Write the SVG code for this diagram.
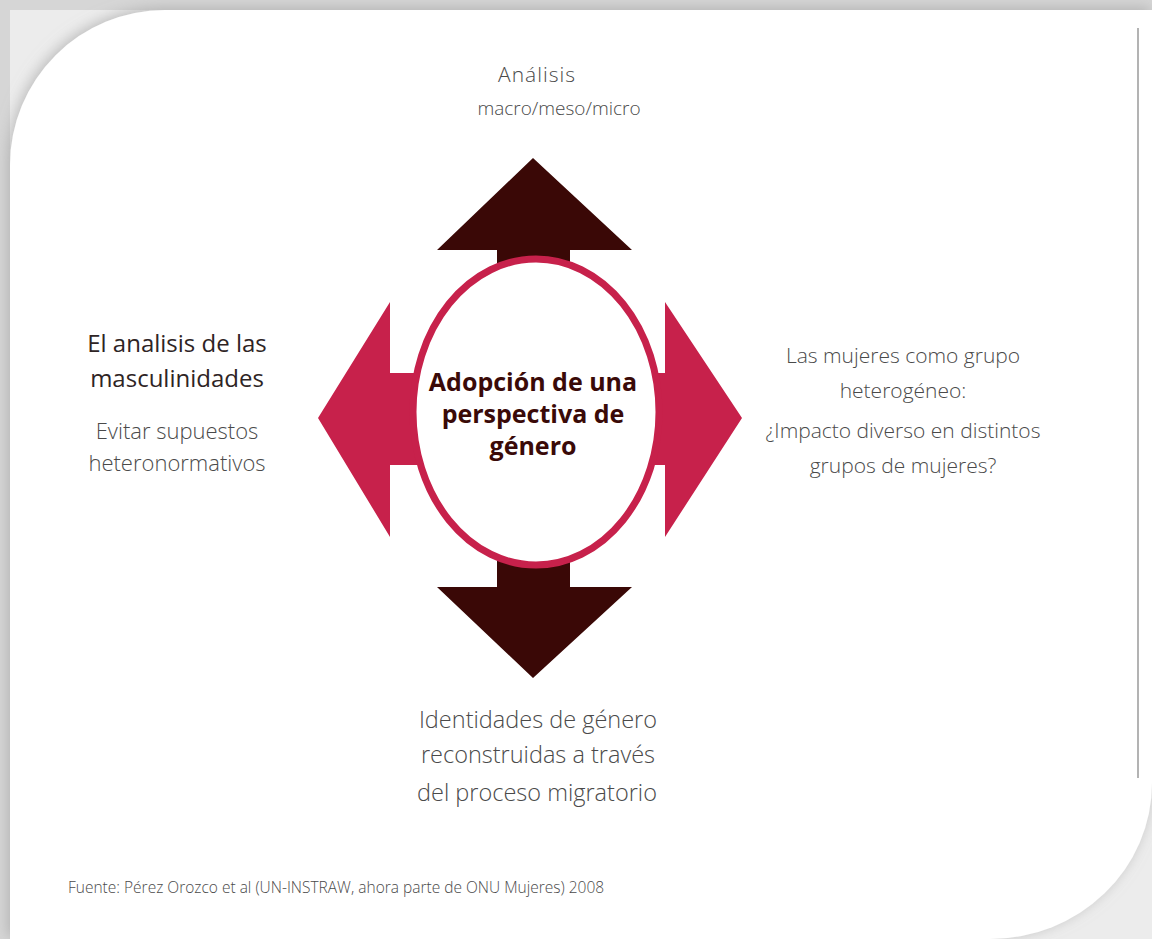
<svg xmlns="http://www.w3.org/2000/svg" width="1152" height="939" viewBox="0 0 1152 939">
<defs>
<filter id="sh" x="-5%" y="-5%" width="110%" height="110%">
<feGaussianBlur in="SourceAlpha" stdDeviation="7"/>
<feOffset dx="-2" dy="-2" result="b"/>
<feFlood flood-color="#9a9a9a" flood-opacity="0.6"/>
<feComposite in2="b" operator="in"/>
<feMerge><feMergeNode/><feMergeNode in="SourceGraphic"/></feMerge>
</filter>
<style>
.lt{font-family:"Open Sans","Liberation Sans",sans-serif;font-weight:300;fill:#4a4a4a;text-anchor:middle}
.dk{font-family:"Open Sans","Liberation Sans",sans-serif;font-weight:400;fill:#2e2424;text-anchor:middle}
.ctr{font-family:"Open Sans","Liberation Sans",sans-serif;font-weight:700;fill:#3a0a08;text-anchor:middle;font-size:25px}
.red{fill:#c7214b}
.brown{fill:#3a0806}
</style>
</defs>
<rect width="1152" height="939" fill="#ececec"/>
<rect width="1152" height="10" fill="#d6d6d6"/>
<rect width="10" height="939" fill="#d6d6d6"/>
<path d="M10,939 L10,165 A155,155 0 0 1 165,10 L1152,10 L1152,783 A162,156 0 0 1 990,939 Z" fill="#ffffff" filter="url(#sh)"/>
<line x1="1138" y1="28" x2="1138" y2="778" stroke="#9a9a9a" stroke-width="1.5"/>

<g id="connectors">
<path class="brown" d="M533,158 L632,250 L570,250 L570,266 L497,266 L497,250 L437,250 Z"/>
<path class="brown" d="M533,678 L632,587 L570,587 L570,560 L497,560 L497,587 L437,587 Z"/>
<path class="red" d="M318,418 L390,302 L390,373 L420,373 L420,465 L390,465 L390,537 Z"/>
<path class="red" d="M742,418 L665,302 L665,373 L650,373 L650,465 L665,465 L665,537 Z"/>
</g>

<g id="center">
<ellipse cx="536" cy="412" rx="123" ry="153" fill="#ffffff" stroke="#c7214b" stroke-width="7"/>
<text class="ctr" x="533" y="391">Adopción de una</text>
<text class="ctr" x="533" y="423">perspectiva de</text>
<text class="ctr" x="533" y="455">género</text>
</g>

<g id="top">
<text class="lt" x="537" y="82" font-size="21" letter-spacing="1">Análisis</text>
<text class="lt" x="559" y="115" font-size="19">macro/meso/micro</text>
</g>

<g id="left">
<text class="dk" x="177" y="352" font-size="24">El analisis de las</text>
<text class="dk" x="177" y="387" font-size="24">masculinidades</text>
<text class="lt" x="177" y="439" font-size="22">Evitar supuestos</text>
<text class="lt" x="177" y="471" font-size="22">heteronormativos</text>
</g>

<g id="right">
<text class="lt" x="903" y="363" font-size="21">Las mujeres como grupo</text>
<text class="lt" x="903" y="398" font-size="21">heterogéneo:</text>
<text class="lt" x="903" y="438" font-size="21">¿Impacto diverso en distintos</text>
<text class="lt" x="903" y="473" font-size="21">grupos de mujeres?</text>
</g>

<g id="bottom">
<text class="lt" x="538" y="728" font-size="23.5">Identidades de género</text>
<text class="lt" x="538" y="763" font-size="23.5">reconstruidas a través</text>
<text class="lt" x="537" y="801" font-size="23.5">del proceso migratorio</text>
</g>

<text class="lt" x="68" y="893" font-size="15.5" style="text-anchor:start">Fuente: Pérez Orozco et al (UN-INSTRAW, ahora parte de ONU Mujeres) 2008</text>
</svg>
